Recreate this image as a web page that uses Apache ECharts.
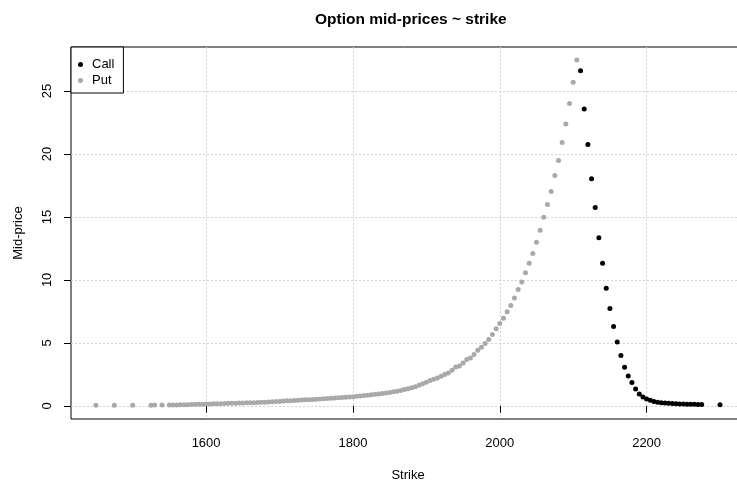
<!DOCTYPE html>
<html>
<head>
<meta charset="utf-8">
<script src="https://cdn.jsdelivr.net/npm/echarts@6/dist/echarts.min.js"></script>
<style>
html,body{margin:0;padding:0;background:#fff;overflow:hidden;}
#chart{width:737px;height:483px;}
</style>
</head>
<body>
<div id="chart"></div>
<script>
// ---- data ----
const putStrikes = [1450,1475,1500,1525,1530,1540,1550,1555,1560,1565,1570,1575,1580,1585,1590,1595,
  1600,1605,1610,1615,1620,1625,1630,1635,1640,1645,1650,1655,1660,1665,1670,1675,1680,1685,1690,1695,
  1700,1705,1710,1715,1720,1725,1730,1735,1740,1745,1750,1755,1760,1765,1770,1775,1780,1785,1790,1795,
  1800,1805,1810,1815,1820,1825,1830,1835,1840,1845,1850,1855,1860,1865,1870,1875,1880,1885,1890,1895,
  1900,1905,1910,1915,1920,1925,1930,1935,1940,1945,1950,1955,1960,1965,1970,1975,1980,1985,1990,1995,
  2000,2005,2010,2015,2020,2025,2030,2035,2040,2045,2050,2055,2060,2065,2070,2075,2080,2085,2090,2095,
  2100,2105];
const putPrices = [0.05,0.05,0.05,0.05,0.06,0.06,0.06,0.07,0.07,0.08,0.08,0.09,0.10,0.12,0.13,0.13,
  0.15,0.15,0.16,0.17,0.17,0.18,0.20,0.21,0.21,0.22,0.23,0.24,0.25,0.25,0.27,0.28,0.29,0.31,0.33,0.34,
  0.35,0.37,0.39,0.40,0.42,0.44,0.45,0.47,0.48,0.50,0.52,0.54,0.56,0.58,0.60,0.62,0.64,0.66,0.68,0.70,
  0.72,0.75,0.78,0.81,0.84,0.87,0.91,0.94,0.98,1.02,1.06,1.11,1.16,1.22,1.29,1.36,1.43,1.52,1.63,1.76,
  1.86,2.00,2.11,2.21,2.35,2.48,2.61,2.82,3.08,3.16,3.40,3.67,3.80,4.07,4.41,4.65,4.94,5.26,5.66,6.11,
  6.53,6.96,7.46,7.97,8.57,9.24,9.84,10.56,11.33,12.10,13.00,13.95,14.98,15.99,17.03,18.30,19.49,20.92,22.38,24.02,
  25.69,27.46];
const callStrikes = [2110,2115,2120,2125,2130,2135,2140,2145,2150,2155,2160,2165,2170,2175,2180,2185,2190,2195,
  2200,2205,2210,2215,2220,2225,2230,2235,2240,2245,2250,2255,2260,2265,2270,2275,2300];
const callPrices = [26.61,23.57,20.76,18.03,15.76,13.34,11.33,9.34,7.73,6.30,5.07,3.99,3.06,2.37,1.84,1.34,0.94,0.70,
  0.54,0.44,0.34,0.28,0.25,0.22,0.20,0.18,0.17,0.15,0.15,0.13,0.13,0.12,0.10,0.10,0.09];
const xTicks = [1600,1800,2000,2200];
const yTicks = [0,5,10,15,20,25];
const titleText = 'Option mid-prices ~ strike';
const xName = 'Strike';
const yName = 'Mid-price';
const seriesNames = ['Call','Put'];

const FONT = "'Liberation Sans', Arial, sans-serif";
const zip = (a, b) => a.map((v, i) => [v, b[i]]);

const chart = echarts.init(document.getElementById('chart'), null, {renderer: 'canvas'});
chart.setOption({
  animation: false,
  backgroundColor: '#fff',
  title: {
    text: titleText,
    left: 310, top: 7,
    textStyle: {fontFamily: FONT, fontSize: 15.5, fontWeight: 'bold', color: '#000'}
  },
  legend: {
    orient: 'vertical',
    left: 71, top: 47,
    padding: [11, 9, 6, 7],
    itemGap: 3,
    itemWidth: 5, itemHeight: 5,
    borderColor: '#000', borderWidth: 1, borderRadius: 0,
    backgroundColor: '#fff',
    data: [{name: seriesNames[0], icon: 'circle'}, {name: seriesNames[1], icon: 'circle'}],
    textStyle: {fontFamily: FONT, fontSize: 13, color: '#000', padding: [0, 0, 0, 4]}
  },
  grid: {
    left: 71, top: 47, right: -8, bottom: 64,
    outerBoundsMode: 'none', containLabel: false,
    show: true, borderColor: '#000', borderWidth: 1, backgroundColor: 'transparent'
  },
  xAxis: {
    type: 'value', min: 1416, max: 2334,
    name: xName, nameLocation: 'middle', nameGap: 50,
    nameTextStyle: {fontFamily: FONT, fontSize: 13, color: '#000'},
    axisLine: {show: false},
    axisTick: {show: true, inside: false, length: 7, customValues: xTicks, lineStyle: {color: '#000'}},
    axisLabel: {customValues: xTicks, margin: 18, fontFamily: FONT, fontSize: 13, color: '#000',
                formatter: v => String(v)},
    splitLine: {show: true, lineStyle: {color: '#d3d3d3', type: [2, 2], width: 1}}
  },
  yAxis: {
    type: 'value', min: -1.05, max: 28.5,
    name: yName, nameLocation: 'middle', nameGap: 46,
    nameTextStyle: {fontFamily: FONT, fontSize: 13, color: '#000'},
    axisLine: {show: false},
    axisTick: {show: true, inside: false, length: 7, customValues: yTicks, lineStyle: {color: '#000'}},
    axisLabel: {customValues: yTicks, rotate: 90, margin: 17, fontFamily: FONT, fontSize: 13, color: '#000',
                formatter: v => String(v)},
    splitLine: {show: true, lineStyle: {color: '#d3d3d3', type: [2, 2], width: 1}}
  },
  series: [
    {name: seriesNames[0], type: 'scatter', symbol: 'circle', symbolSize: 5,
     itemStyle: {color: '#000', opacity: 1}, data: zip(callStrikes, callPrices)},
    {name: seriesNames[1], type: 'scatter', symbol: 'circle', symbolSize: 5,
     itemStyle: {color: '#a9a9a9', opacity: 1}, data: zip(putStrikes, putPrices)}
  ]
});
</script>
</body>
</html>
